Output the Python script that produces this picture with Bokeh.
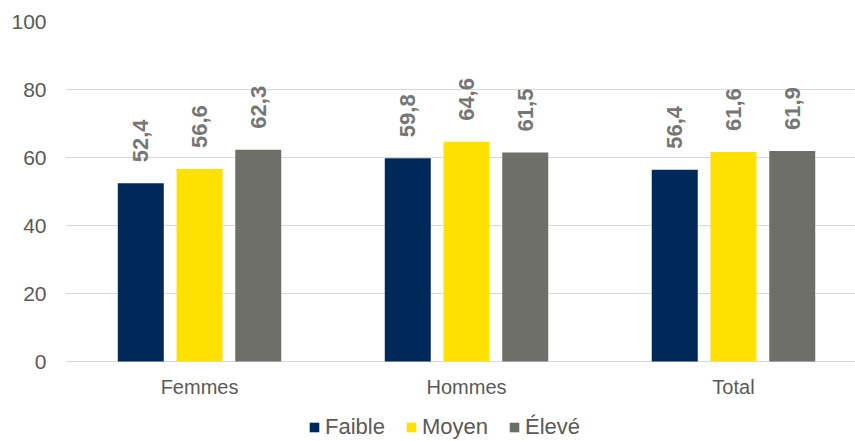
from math import pi
from bokeh.plotting import figure
from bokeh.models import ColumnDataSource, FixedTicker, Legend, LegendItem, Range1d
from bokeh.transform import dodge
from bokeh.core.properties import value
from bokeh.embed import file_html
from bokeh.resources import INLINE

categories = ["Femmes", "Hommes", "Total"]
series_names = ["Faible", "Moyen", "Élevé"]
faible = [52.4, 59.8, 56.4]
moyen = [56.6, 64.6, 61.6]
eleve = [62.3, 61.5, 61.9]
y_ticks = [0, 20, 40, 60, 80, 100]

colors = ["#00295A", "#FFE100", "#6F6F6A"]
offsets = [-0.22, 0.0, 0.22]
FONT = "Liberation Sans"

idx = list(range(len(categories)))
src = ColumnDataSource(dict(
    x=idx, cat=categories, zero=[0] * len(idx),
    faible=faible, moyen=moyen, eleve=eleve,
    faible_lbl=[f"{v:.1f}".replace(".", ",") for v in faible],
    moyen_lbl=[f"{v:.1f}".replace(".", ",") for v in moyen],
    eleve_lbl=[f"{v:.1f}".replace(".", ",") for v in eleve],
))

# frame spans from y=21 px down to the bottom of the canvas; value 0 sits at 361 px
p = figure(width=855, height=441, output_backend="svg", toolbar_location=None,
           x_range=Range1d(-0.502, 2.457), y_range=Range1d(-80 / 3.4, 100),
           x_axis_location=None,
           min_border_left=65, min_border_right=0, min_border_top=21, min_border_bottom=0)
p.outline_line_color = None
p.background_fill_color = "white"
p.border_fill_color = "white"

items = []
for key, name, col, off in zip(["faible", "moyen", "eleve"], series_names, colors, offsets):
    r = p.vbar(x=dodge("x", off), top=key, width=0.1723, bottom=0, source=src,
               fill_color=col, line_color=None)
    p.text(x=dodge("x", off), y=key, text=key + "_lbl", source=src, angle=pi / 2,
           y_offset=-21, text_align="left", text_baseline="middle",
           text_font=value(FONT), text_font_style="bold", text_font_size="22px",
           text_color="#767676")
    items.append(LegendItem(label=name, renderers=[r]))

# category labels under the baseline
p.text(x="x", y="zero", text="cat", source=src, y_offset=25,
       text_align="center", text_baseline="middle",
       text_font=value(FONT), text_font_size="20px", text_color="#595959")

p.yaxis.ticker = FixedTicker(ticks=y_ticks)
p.yaxis.major_tick_line_color = None
p.yaxis.minor_tick_line_color = None
p.yaxis.axis_line_color = None
p.yaxis.major_label_text_font = FONT
p.yaxis.major_label_text_font_size = "21px"
p.yaxis.major_label_text_color = "#595959"
p.yaxis.major_label_standoff = 13

p.xgrid.grid_line_color = None
p.ygrid.ticker = FixedTicker(ticks=y_ticks)
p.ygrid.grid_line_color = "#D9D9D9"
p.ygrid.grid_line_width = 1

legend = Legend(items=items, orientation="horizontal", location=(243, 1),
                label_text_font=FONT, label_text_font_size="22px", label_text_color="#595959",
                glyph_width=12, glyph_height=12, label_standoff=5, spacing=20,
                padding=0, margin=0, border_line_color=None, background_fill_alpha=0)
p.add_layout(legend, "center")

open("out.html", "w").write(file_html(p, INLINE))
